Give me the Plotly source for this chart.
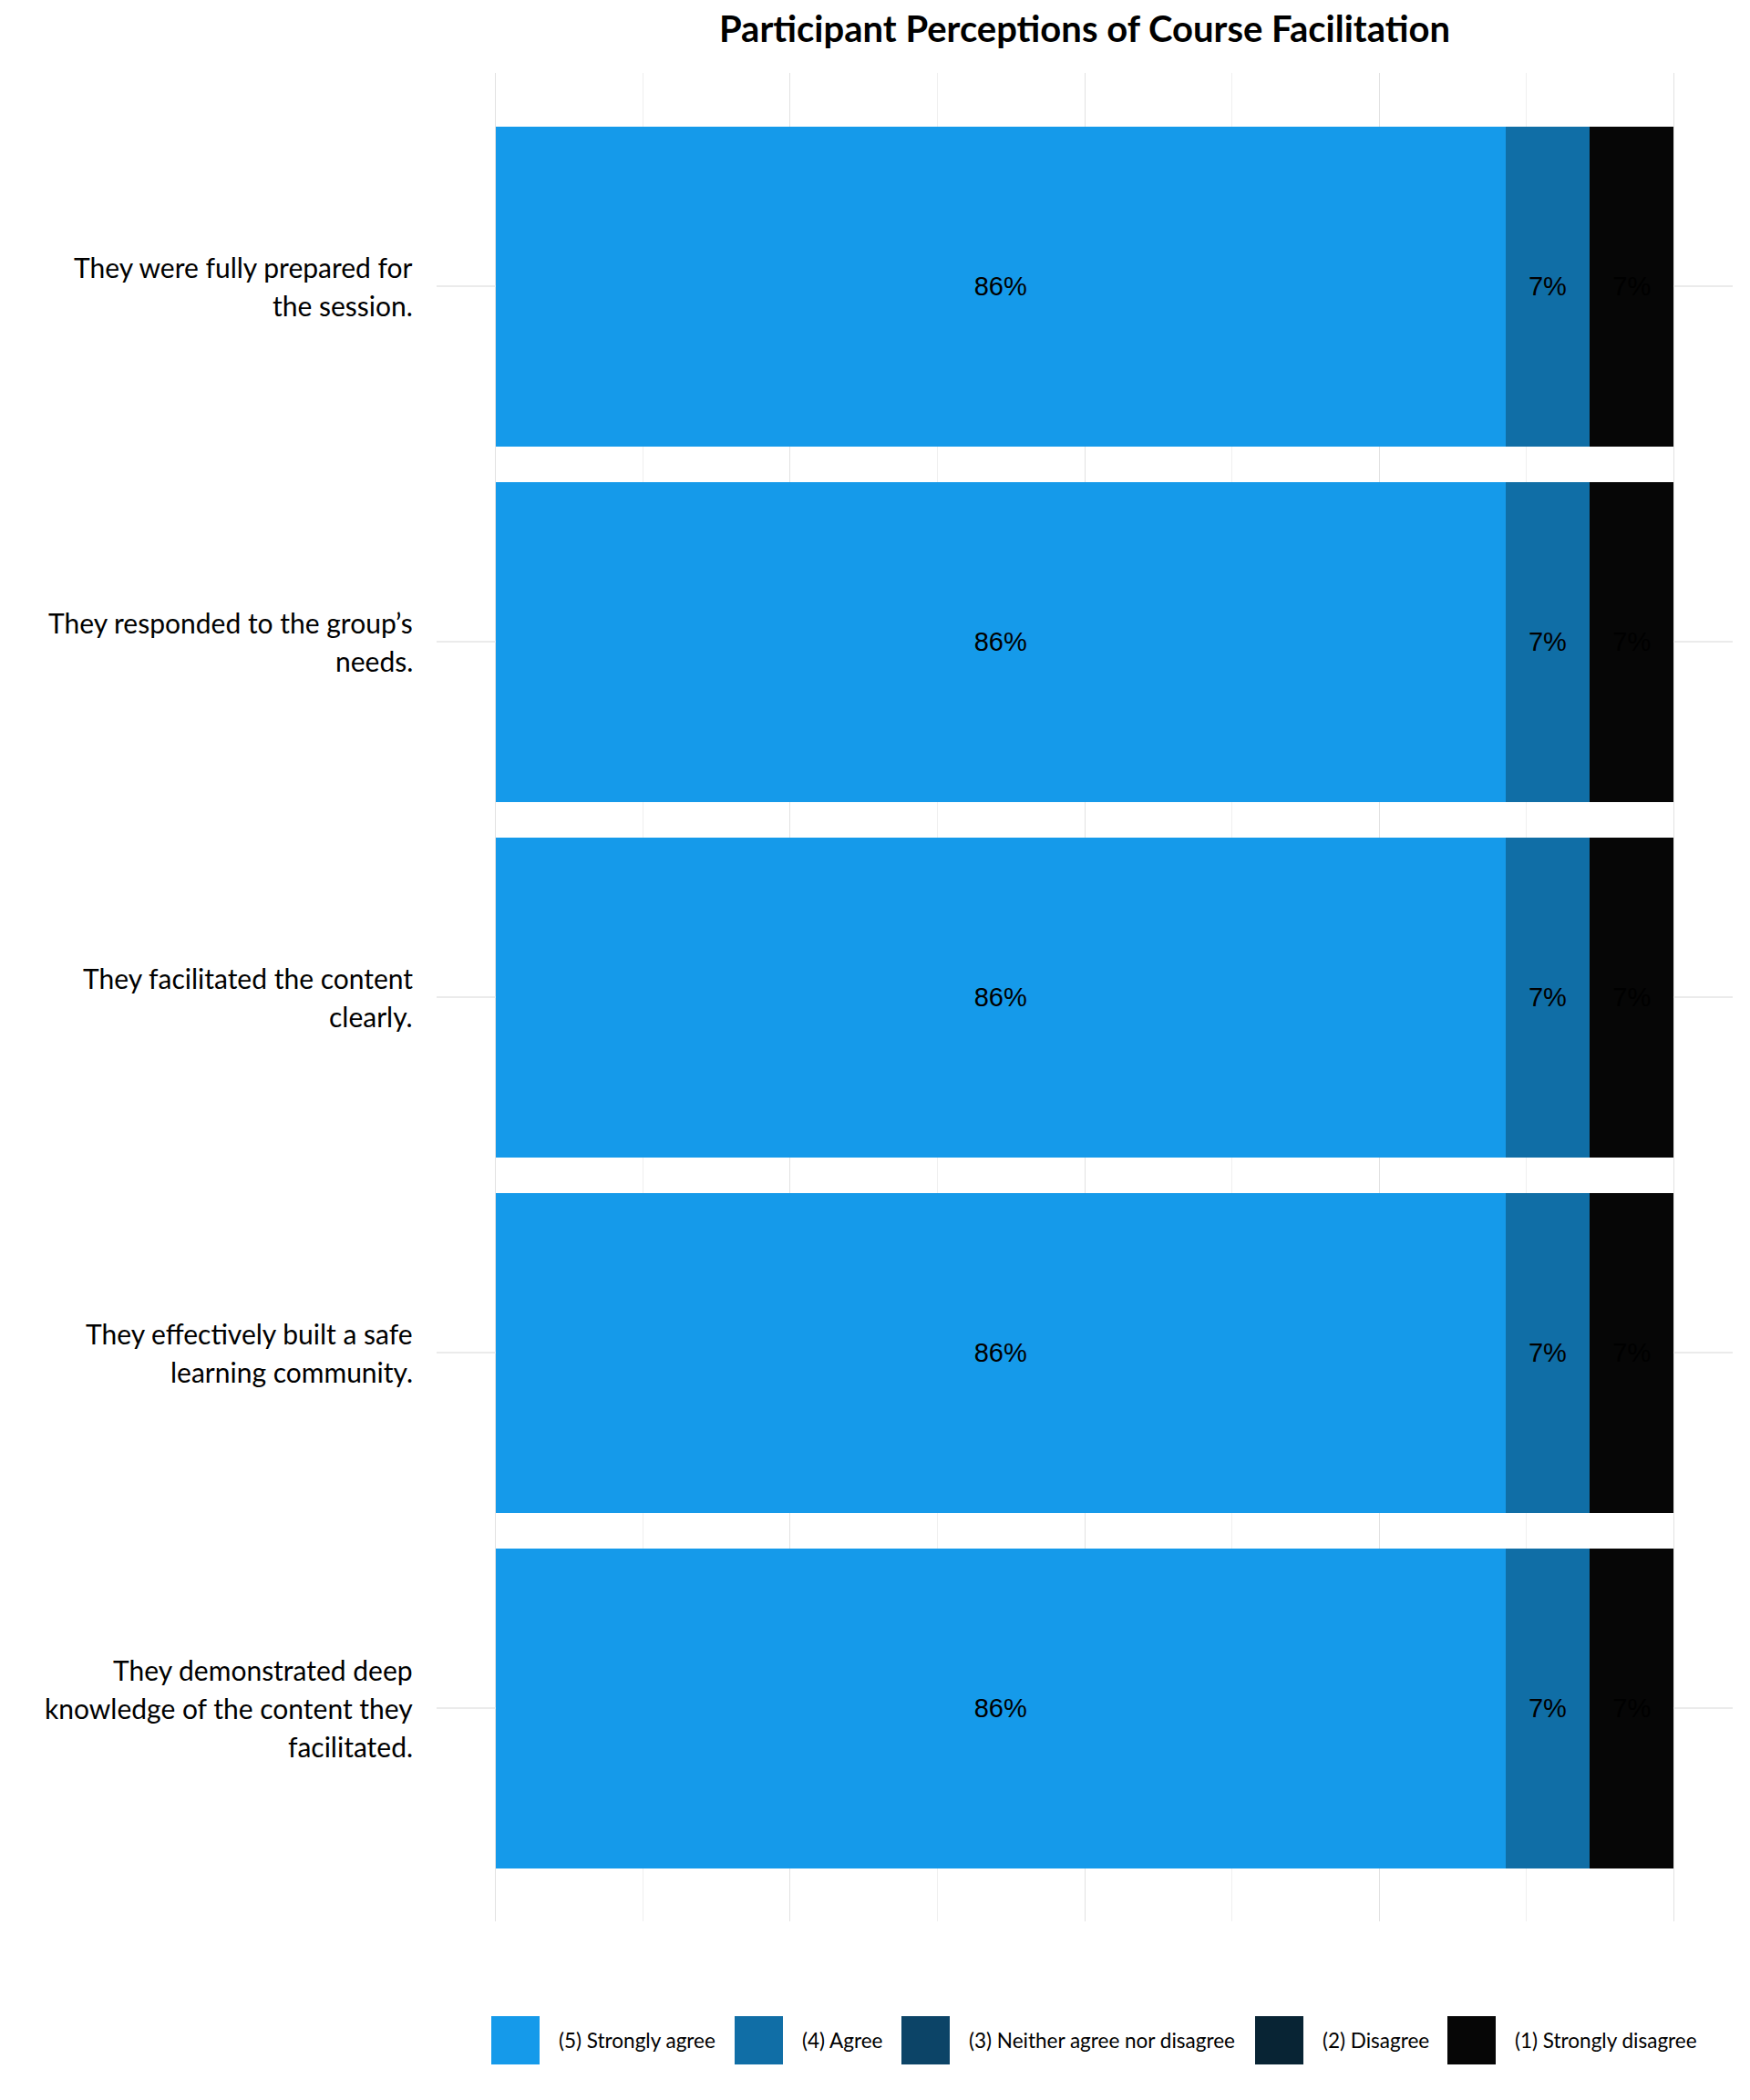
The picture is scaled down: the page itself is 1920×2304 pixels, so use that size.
import textwrap
import plotly.graph_objects as go

# ---------------- data ----------------
questions = [
    "They were fully prepared for the session.",
    "They responded to the group’s needs.",
    "They facilitated the content clearly.",
    "They effectively built a safe learning community.",
    "They demonstrated deep knowledge of the content they facilitated.",
]
responses = [
    "(5) Strongly agree",
    "(4) Agree",
    "(3) Neither agree nor disagree",
    "(2) Disagree",
    "(1) Strongly disagree",
]
pct_strongly_agree = [85.72, 85.72, 85.72, 85.72, 85.72]
pct_agree = [7.14, 7.14, 7.14, 7.14, 7.14]
pct_neither = [0, 0, 0, 0, 0]
pct_disagree = [0, 0, 0, 0, 0]
pct_strongly_disagree = [7.14, 7.14, 7.14, 7.14, 7.14]
series_values = [pct_strongly_agree, pct_agree, pct_neither, pct_disagree, pct_strongly_disagree]
colors = ["#159AEA", "#106EA6", "#0C4467", "#082434", "#060606"]
title_text = "Participant Perceptions of Course Facilitation"

# ---------------- layout constants ----------------
W, H = 1920, 2304
PL, PR, PT, PB = 479, 1901, 80, 2108  # panel box in pixels
LABEL_FONT = "Lato, Carlito, Calibri, sans-serif"


def px_x(p):
    return (p - PL) / (PR - PL)


def px_y(p):
    return (PB - p) / (PB - PT)


fig = go.Figure()
for name, vals, col in zip(responses, series_values, colors):
    fig.add_trace(go.Bar(
        y=questions,
        x=vals,
        name=name,
        orientation="h",
        marker=dict(color=col, line=dict(width=0)),
        text=[f"{v:.0f}%" if v > 0 else "" for v in vals],
        textposition="inside",
        insidetextanchor="middle",
        textangle=0,
        constraintext="none",
        textfont=dict(family="Liberation Sans, Arial, sans-serif", size=29, color="black"),
        width=0.9,
        showlegend=False,
        cliponaxis=False,
    ))

annotations = []
# y-axis labels (wrapped, right aligned)
LINE_H = 42
for q in questions:
    lines = textwrap.wrap(q, 29)
    n = len(lines)
    for i, ln in enumerate(lines):
        annotations.append(dict(
            text=ln, xref="paper", yref="y", x=px_x(455), y=q,
            xanchor="right", yanchor="middle", showarrow=False,
            yshift=((n - 1) / 2 - i) * LINE_H,
            font=dict(family=LABEL_FONT, size=30, color="#000000"),
        ))

# custom legend
shapes = []
swatch_left = [539, 806, 989, 1377, 1588]
SW = 53
LEG_TOP, LEG_BOT = 2212, 2265
for name, col, xl in zip(responses, colors, swatch_left):
    shapes.append(dict(type="rect", xref="paper", yref="paper",
                       x0=px_x(xl), x1=px_x(xl + SW), y0=px_y(LEG_BOT), y1=px_y(LEG_TOP),
                       fillcolor=col, line=dict(width=0), layer="above"))
    annotations.append(dict(
        text=name, xref="paper", yref="paper", x=px_x(xl + SW + 19), y=px_y((LEG_TOP + LEG_BOT) / 2),
        xanchor="left", yanchor="middle", showarrow=False,
        font=dict(family=LABEL_FONT, size=22.5, color="#000000"),
    ))

fig.update_layout(
    width=W, height=H, autosize=False,
    margin=dict(l=PL, r=W - PR, t=PT, b=H - PB, pad=0),
    barmode="stack",
    bargap=0.1,
    plot_bgcolor="white",
    paper_bgcolor="white",
    title=dict(text=f"<b>{title_text}</b>", x=px_x((PL + PR) / 2), xref="paper", xanchor="center",
               y=1 - 32 / H, yref="container", yanchor="middle",
               font=dict(family=LABEL_FONT, size=40, color="#000000")),
    xaxis=dict(range=[-5, 105], tickmode="array", tickvals=[0, 25, 50, 75, 100],
               showticklabels=False, ticks="", showgrid=True, gridcolor="#e2e2e2", gridwidth=1,
               zeroline=False, showline=False,
               minor=dict(tickmode="array", tickvals=[12.5, 37.5, 62.5, 87.5], showgrid=True,
                          gridcolor="#efefef", gridwidth=1, ticks="")),
    yaxis=dict(type="category", categoryorder="array", categoryarray=questions,
               range=[4.6, -0.6], showticklabels=False, ticks="", showgrid=True,
               gridcolor="#ebebeb", gridwidth=1.5, zeroline=False, showline=False),
    annotations=annotations,
    shapes=shapes,
    showlegend=False,
)

fig.write_html("out.html")
